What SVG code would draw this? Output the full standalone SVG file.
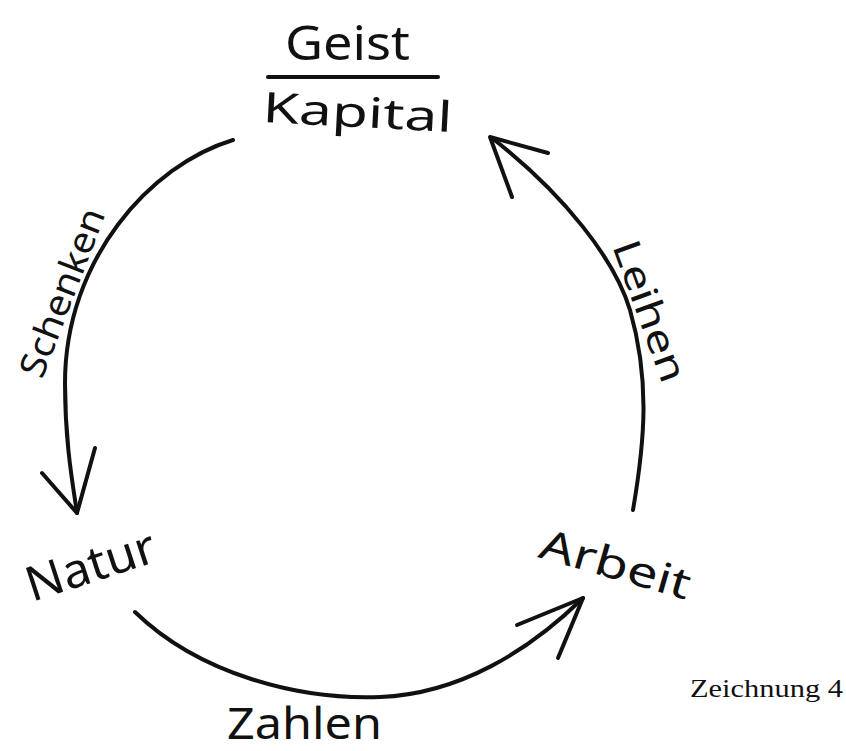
<svg xmlns="http://www.w3.org/2000/svg" width="846" height="751" viewBox="0 0 846 751">
<style>
.hand{font-family:"Noto Sans","DejaVu Sans",sans-serif;fill:#111;}
.line{fill:none;stroke:#111;stroke-width:4;stroke-linecap:round;stroke-linejoin:round;}
.cap{font-family:"Liberation Serif","Times New Roman",serif;fill:#111;}
</style>
<rect width="846" height="751" fill="#fff"/>
<g id="geist-kapital">
<text class="hand" x="285" y="60" font-size="48" textLength="125" lengthAdjust="spacingAndGlyphs">Geist</text>
<line class="line" x1="268" y1="77" x2="438" y2="77" stroke-width="3"/>
<text class="hand" transform="translate(262,122) rotate(3)" font-size="42" textLength="190" lengthAdjust="spacingAndGlyphs">Kapital</text>
</g>
<g id="natur">
<text class="hand" transform="translate(32,602) rotate(-18)" font-size="48" textLength="134" lengthAdjust="spacingAndGlyphs">Natur</text>
</g>
<g id="arbeit">
<text class="hand" transform="translate(537,557) rotate(16)" font-size="42" textLength="155" lengthAdjust="spacingAndGlyphs">Arbeit</text>
</g>
<g id="connectors">
<g id="schenken">
<path class="line" d="M233,140 C150,165 65,260 65,383 C65,440 72,480 77,513"/>
<polyline class="line" points="42,473 77,513 95,448"/>
<text class="hand" transform="translate(42,380) rotate(-69)" font-size="36" textLength="178" lengthAdjust="spacingAndGlyphs">Schenken</text>
</g>
<g id="leihen">
<path class="line" d="M633,510 C645,440 650,380 630,310 C615,260 565,195 492,138"/>
<polyline class="line" points="548,153 490,137 512,197"/>
<text class="hand" transform="translate(612,246) rotate(70)" font-size="38" textLength="148" lengthAdjust="spacingAndGlyphs">Leihen</text>
</g>
<g id="zahlen">
<path class="line" d="M135,612 C200,675 300,700 380,697 C460,694 530,650 583,598"/>
<polyline class="line" points="517,625 583,598 558,658"/>
<text class="hand" x="227" y="739" font-size="44" textLength="155" lengthAdjust="spacingAndGlyphs">Zahlen</text>
</g>
</g>
<text class="cap" x="690" y="697" font-size="25" textLength="153" lengthAdjust="spacingAndGlyphs">Zeichnung 4</text>
</svg>
